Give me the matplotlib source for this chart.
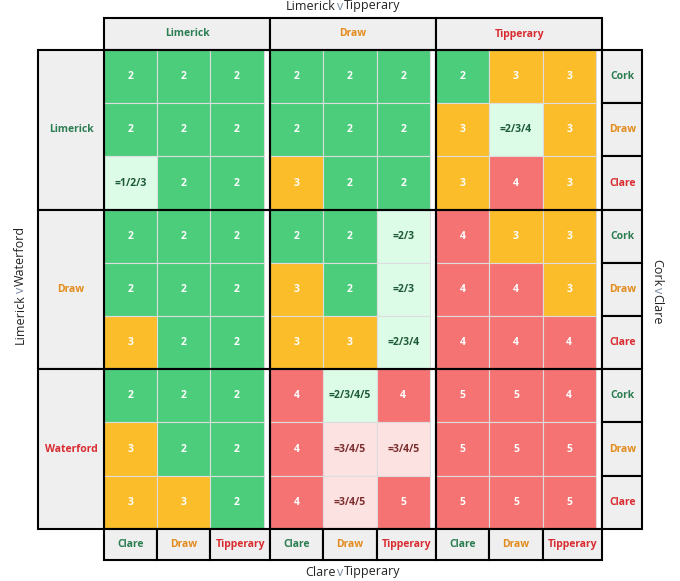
import matplotlib.pyplot as plt
from matplotlib.patches import Rectangle

plt.rcParams['font.family'] = ['Open Sans', 'DejaVu Sans']

col_teams = ['Limerick', 'Draw', 'Tipperary']
row_teams = ['Limerick', 'Draw', 'Waterford']
right_labels = ['Cork', 'Draw', 'Clare']
bottom_labels = ['Clare', 'Draw', 'Tipperary']
team_colors = ['#2b7d52', '#e38b1d', '#d92b30']

grid = [
    ['2', '2', '2', '2', '2', '2', '2', '3', '3'],
    ['2', '2', '2', '2', '2', '2', '3', '=2/3/4', '3'],
    ['=1/2/3', '2', '2', '3', '2', '2', '3', '4', '3'],
    ['2', '2', '2', '2', '2', '=2/3', '4', '3', '3'],
    ['2', '2', '2', '3', '2', '=2/3', '4', '4', '3'],
    ['3', '2', '2', '3', '3', '=2/3/4', '4', '4', '4'],
    ['2', '2', '2', '4', '=2/3/4/5', '4', '5', '5', '4'],
    ['3', '2', '2', '4', '=3/4/5', '=3/4/5', '5', '5', '5'],
    ['3', '3', '2', '4', '=3/4/5', '5', '5', '5', '5'],
]

fill = {'2': '#4ccd7b', '3': '#fbbd2a', '4': '#f57373', '5': '#f57373'}

fig = plt.figure(figsize=(6.8, 5.81), dpi=100)
ax = fig.add_axes([0, 0, 1, 1])
ax.set_xlim(0, 680)
ax.set_ylim(581, 0)
ax.axis('off')

x0, y0 = 104, 50
cw, ch = 53.2, 53.2
gap = 6.5
bw = 3 * cw + gap
bh = 3 * ch

def cell_x(c):
    return x0 + (c // 3) * bw + (c % 3) * cw

def cell_y(r):
    return y0 + r * ch

for r, row in enumerate(grid):
    for c, v in enumerate(row):
        x, y = cell_x(c), cell_y(r)
        if v.startswith('='):
            if '2' in v:
                fc, tc = '#dcfce7', '#1d5a37'
            else:
                fc, tc = '#fde2e2', '#7b2d2d'
        else:
            fc, tc = fill[v], 'white'
        ax.add_patch(Rectangle((x, y), cw, ch, fc=fc, ec='#dddddd', lw=0.8))
        ax.text(x + cw / 2, y + ch / 2, v, ha='center', va='center',
                fontsize=7.5, fontweight='bold', color=tc)

hdr = '#efefef'
# top header
for b in range(3):
    x = x0 + b * bw
    ax.add_patch(Rectangle((x, 18), bw, y0 - 18, fc=hdr, ec='black', lw=1.5))
    ax.text(x + bw / 2, 34, col_teams[b], ha='center', va='center', fontsize=7.5,
            fontweight='bold', color=team_colors[b])
    # block borders
    for rb in range(3):
        ax.add_patch(Rectangle((x, y0 + rb * bh), bw, bh, fc='none', ec='black', lw=1.5))
# left header
for b in range(3):
    y = y0 + b * bh
    ax.add_patch(Rectangle((38, y), x0 - 38, bh, fc=hdr, ec='black', lw=1.5))
    ax.text(71, y + bh / 2, row_teams[b], ha='center', va='center', fontsize=7.5,
            fontweight='bold', color=team_colors[b])
# right and bottom headers
xr = x0 + 3 * bw
for r in range(9):
    y = cell_y(r)
    ax.add_patch(Rectangle((xr, y), 40, ch, fc=hdr, ec='black', lw=1.5))
    ax.text(xr + 20, y + ch / 2, right_labels[r % 3], ha='center', va='center',
            fontsize=7.5, fontweight='bold', color=team_colors[r % 3])
yb = y0 + 9 * ch
for c in range(9):
    x = cell_x(c)
    w = cw + (gap if c % 3 == 2 else 0)
    ax.add_patch(Rectangle((x, yb), w, 31, fc=hdr, ec='black', lw=1.5))
    ax.text(x + w / 2, yb + 16, bottom_labels[c % 3], ha='center', va='center',
            fontsize=7.5, fontweight='bold', color=team_colors[c % 3])

# axis titles
def title(x, y, a, b, rot=0):
    if rot == 0:
        ax.text(x - 4, y, a, ha='right', va='center', fontsize=9, color='#222222')
        ax.text(x, y, 'v', ha='center', va='center', fontsize=9, color='#7a8aa0')
        ax.text(x + 4, y, b, ha='left', va='center', fontsize=9, color='#222222')
    else:
        sgn = 1 if rot == 90 else -1
        ax.text(x, y + 4 * sgn, a, ha='center', va='top' if rot == 90 else 'bottom',
                rotation=rot, fontsize=9, color='#222222')
        ax.text(x, y, 'v', ha='center', va='center', rotation=rot, fontsize=9, color='#7a8aa0')
        ax.text(x, y - 4 * sgn, b, ha='center', va='bottom' if rot == 90 else 'top',
                rotation=rot, fontsize=9, color='#222222')

title(340, 6, 'Limerick', 'Tipperary')
title(340, 572, 'Clare', 'Tipperary')
title(20, 290, 'Limerick', 'Waterford', rot=90)
title(657, 290, 'Cork', 'Clare', rot=-90)

fig.savefig('out.png', dpi=100, facecolor='white')
